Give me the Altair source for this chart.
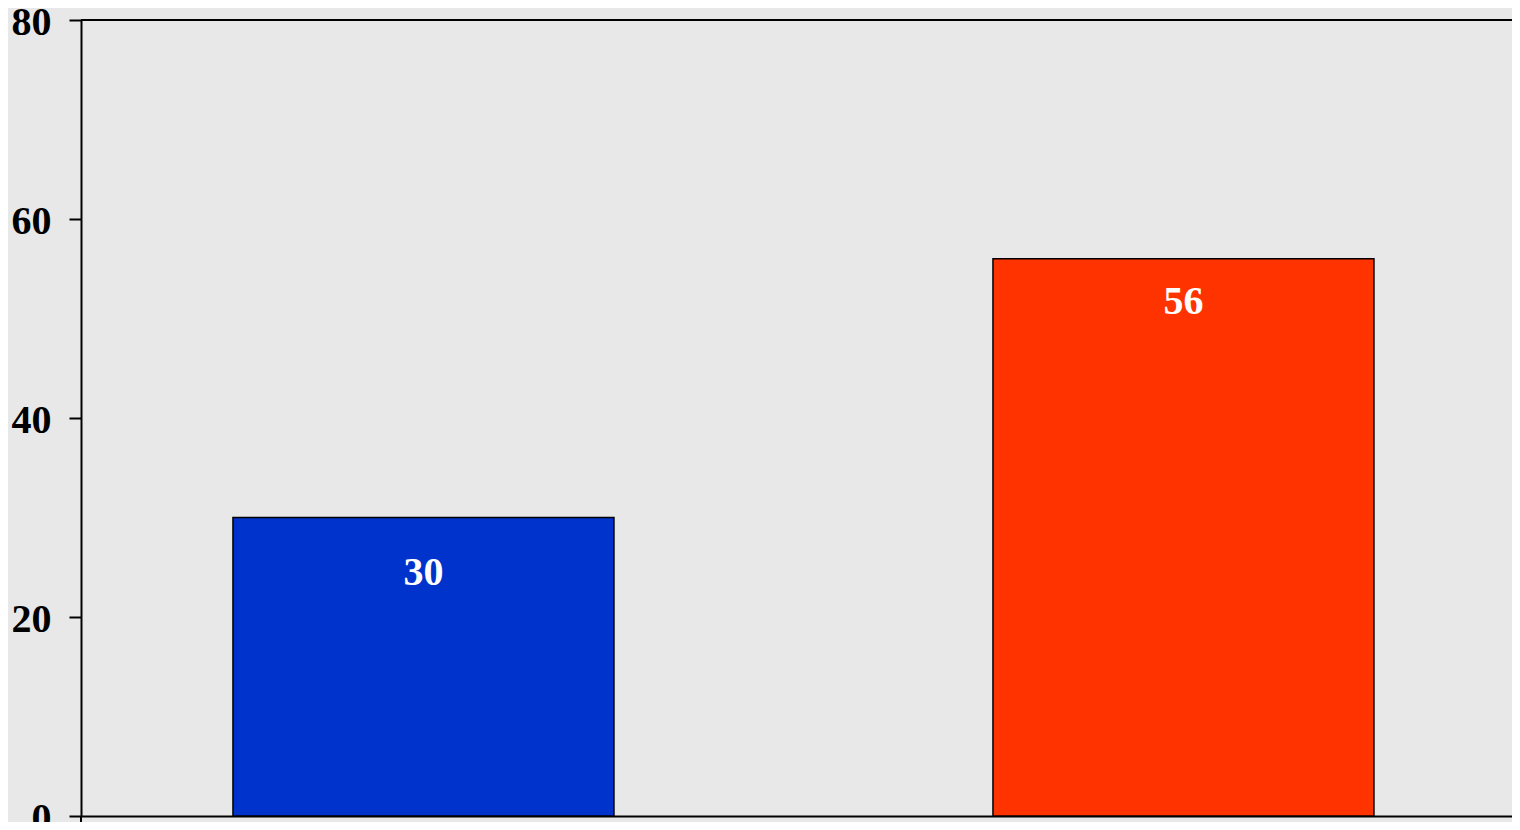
import altair as alt
import pandas as pd

categories = ["A", "B"]
values = [30, 56]
colors = ["#0033cc", "#ff3300"]

df = pd.DataFrame({"cat": categories, "value": values, "color": colors})

FONT = "Liberation Serif"
FS = 40

x_enc = alt.X("cat:N", sort=categories,
              scale=alt.Scale(paddingInner=0.4987, paddingOuter=0.1908, align=0.524),
              axis=alt.Axis(title=None, labels=False, ticks=False, domain=True,
                            domainColor="black", domainWidth=2))
y_enc = alt.Y("value:Q", scale=alt.Scale(domain=[0, 80], nice=False),
              axis=alt.Axis(title=None, values=[0, 20, 40, 60, 80], grid=False,
                            tickSize=12, tickWidth=2, tickColor="black",
                            domainColor="black", domainWidth=2,
                            labelFont=FONT, labelFontSize=FS, labelFontWeight="bold",
                            labelColor="black", labelPadding=18, labelOffset=2))

bars = alt.Chart(df).mark_bar(stroke="black", strokeWidth=1.5).encode(
    x=x_enc,
    y=y_enc,
    color=alt.Color("color:N", scale=None),
)

def label_layer(cat, dy):
    return alt.Chart(df).transform_filter(alt.datum.cat == cat).mark_text(
        font=FONT, fontSize=FS, fontWeight="bold", color="white",
        baseline="middle", dy=dy
    ).encode(
        x=alt.X("cat:N", sort=categories),
        y=alt.Y("value:Q"),
        text=alt.Text("value:Q"),
    )

labels_a = label_layer("A", 55)
labels_b = label_layer("B", 43)

top_line = alt.Chart(df).mark_rule(color="black", strokeWidth=2).encode(
    y=alt.datum(80),
)

axis_ext = alt.Chart(df).mark_rule(color="black", strokeWidth=2).encode(
    x=alt.value(0), y=alt.value(796), y2=alt.value(803),
)

chart = alt.layer(bars, labels_a, labels_b, top_line, axis_ext).properties(
    width=1431, height=796,
    background="#e8e8e8",
    padding={"left": 73, "top": 12, "right": 0, "bottom": 6},
    autosize=alt.AutoSizeParams(type="none"),
).configure_view(stroke=None)

chart.save("out.html", embed_options={"renderer": "svg", "actions": False})
